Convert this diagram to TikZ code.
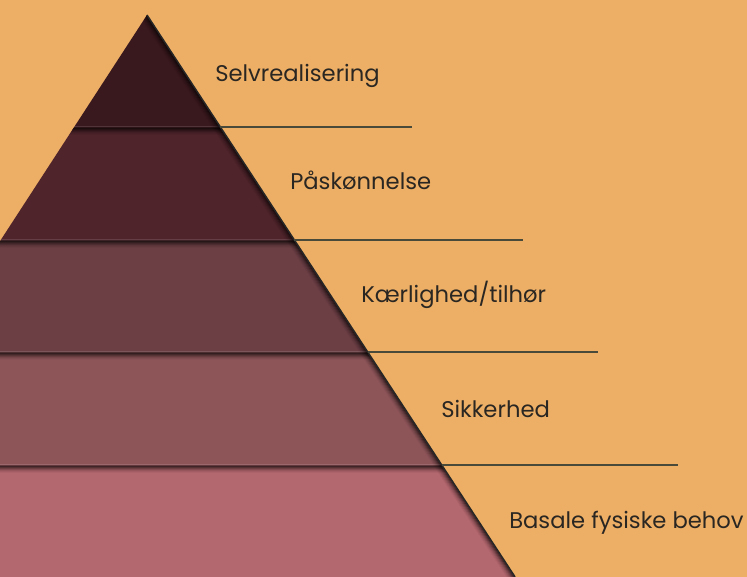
\documentclass[tikz,border=0pt]{standalone}
\usepackage{fontspec}
\setmainfont{Poppins}
\definecolor{bg}{HTML}{EDAF66}
\definecolor{bandA}{HTML}{3A191E}
\definecolor{bandB}{HTML}{4F242B}
\definecolor{bandC}{HTML}{6C3F45}
\definecolor{bandD}{HTML}{8E5559}
\definecolor{bandE}{HTML}{B3676E}
\definecolor{rule}{HTML}{4A4A3A}
\definecolor{txt}{HTML}{2A2622}
\tikzset{
  lbl/.style={anchor=base west, inner sep=0pt, text=txt, font=\fontsize{17}{20}\selectfont},
  leader/.style={draw=rule, line width=1.4pt},
}
\begin{document}
\begin{tikzpicture}[x=0.75pt,y=-0.75pt]
\fill[bg] (0,0) rectangle (747,577);
\useasboundingbox (0,0) rectangle (747,577);
\clip (0,0) rectangle (747,577);
% geometry
\coordinate (apex) at (147,15);
\coordinate (baseR) at (515.1,577);
\coordinate (baseL) at (-218.3,577);
\coordinate (r1) at (220.3,127);
\coordinate (r2) at (294.3,240);
\coordinate (r3) at (367.6,352);
\coordinate (r4) at (441.7,465);
\begin{scope}
  \clip (apex) -- (baseR) -- (baseL) -- cycle;
  \fill[bandA] (-250,0) rectangle (760,127);
  \fill[bandB] (-250,127) rectangle (760,240);
  \fill[bandC] (-250,240) rectangle (760,352);
  \fill[bandD] (-250,352) rectangle (760,465);
  \fill[bandE] (-250,465) rectangle (760,577);
  % band top shadows
  \foreach \yb in {127,240,352,465}{
    \draw[white, opacity=0.12, line width=0.75pt] (-250,\yb) -- (760,\yb);
    \foreach \i/\o in {1/0.45,2/0.35,3/0.26,4/0.18,5/0.11,6/0.06,7/0.03}{
      \draw[black, opacity=\o, line width=0.8pt] (-250,\yb+\i) -- (760,\yb+\i);
    }
  }
  % right edge shadow
  \foreach \i/\o in {1/0.5,2/0.4,3/0.3,4/0.22,5/0.15,6/0.1,7/0.06,8/0.03}{
    \draw[black, opacity=\o, line width=0.9pt] ([xshift=-\i*0.75pt]apex) -- ([xshift=-\i*0.75pt]baseR);
  }
\end{scope}
\draw[black!85, line width=1.1pt] (apex) -- (baseR);
% leaders
\coordinate (e1) at (412,127);
\coordinate (e2) at (523,240);
\coordinate (e3) at (598,352);
\coordinate (e4) at (678,465);
\draw[leader] (r1) -- (e1);
\draw[leader] (r2) -- (e2);
\draw[leader] (r3) -- (e3);
\draw[leader] (r4) -- (e4);
% labels
\node[lbl] (t1) at (215,82) {Selvrealisering};
\node[lbl] (t2) at (290,190) {Påskønnelse};
\node[lbl] (t3) at (361,303) {Kærlighed/tilhør};
\node[lbl] (t4) at (441,418) {Sikkerhed};
\node[lbl] (t5) at (509,528) {Basale fysiske behov};
\end{tikzpicture}
\end{document}
